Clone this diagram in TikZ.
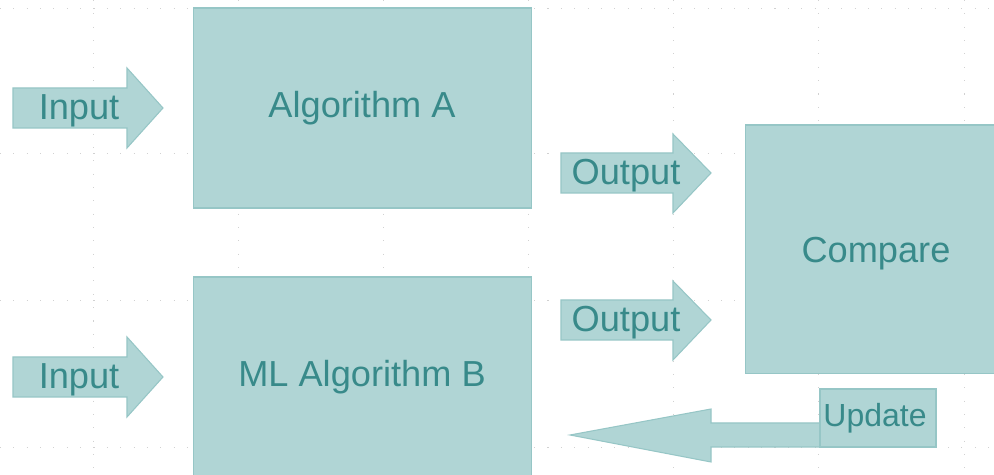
\documentclass[tikz,border=0pt]{standalone}
\usepackage{fontspec}
\setmainfont{Liberation Sans}
\definecolor{tealfill}{RGB}{176,213,213}
\definecolor{tealline}{RGB}{150,198,198}
\definecolor{tealtext}{RGB}{56,138,138}
\begin{document}
\begin{tikzpicture}[x=0.02cm,y=-0.02cm,
		box/.style={draw=tealline,fill=tealfill,line width=0.6pt,inner sep=0pt},
		blk/.style={draw=tealline,fill=tealfill,line width=0.6pt,line join=miter},
		lbl/.style={text=tealtext,font=\fontsize{20.6}{24}\selectfont,inner sep=0pt,anchor=base}]
		\clip (0,0) rectangle (994,475);
		\useasboundingbox (0,0) rectangle (994,475);
		\fill[white] (0,0) rectangle (994,475);

		% background grid
		\foreach \x in {93,238,383,528,673,818,964} {
				\draw[black!18,line width=0.5pt,dash pattern=on 0.6pt off 7pt] (\x,0) -- (\x,475);
			}
		\foreach \y in {8,153,300,447} {
				\draw[black!18,line width=0.5pt,dash pattern=on 0.6pt off 7pt] (0,\y) -- (994,\y);
			}

		% boxes
		\node[box,minimum width=6.78cm,minimum height=4cm] (algA) at (362.5,108) {};
		\node[box,minimum width=6.78cm,minimum height=4cm] (algB) at (362.5,377) {};
		\node[box,minimum width=5.2cm,minimum height=4.98cm] (cmp) at (875,249.5) {};
		\node[lbl] (algAtxt) at (362,118) {Algorithm A};
		\node[lbl] (algBtxt) at (362,387) {ML Algorithm B};
		\node[lbl] (cmptxt) at (876,263) {Compare};

		% input arrows
		\foreach \y/\n in {0/inA,269/inB} {
				\draw[blk] (13,88+\y) -- (127,88+\y) -- (127,68+\y) -- (163,108+\y)
					-- (127,148+\y) -- (127,128+\y) -- (13,128+\y) -- cycle;
				\node[lbl] (\n) at (79,120+\y) {Input};
			}

		% output arrows
		\foreach \y/\n in {0/outA,147/outB} {
				\draw[blk] (561,153+\y) -- (673,153+\y) -- (673,134+\y) -- (711,173+\y)
					-- (673,213+\y) -- (673,193+\y) -- (561,193+\y) -- cycle;
				\node[lbl] (\n) at (626,185+\y) {Output};
			}

		% update arrow
		\draw[blk] (860,423) -- (711,423) -- (711,409) -- (570,435) -- (711,462)
			-- (711,447) -- (860,447) -- cycle;
		\node[box,minimum width=2.32cm,minimum height=1.16cm] (upd) at (878,418) {};
		\node[lbl,font=\fontsize{18.2}{22}\selectfont] (updtxt) at (875,427) {Update};
	\end{tikzpicture}
\end{document}
